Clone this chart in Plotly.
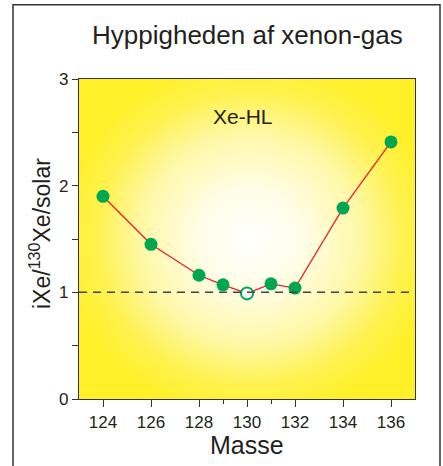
import base64
import plotly.graph_objects as go

# Data
masses = [124, 126, 128, 129, 130, 131, 132, 134, 136]
ratios = [1.90, 1.45, 1.16, 1.07, 0.99, 1.08, 1.04, 1.79, 2.41]
open_mass = [130]
open_ratio = [0.99]
x_ticks = [124, 126, 128, 130, 132, 134, 136]
x_minor = [129, 131]
y_ticks = [0, 1, 2, 3]
solar_level = 1

FONT = "Liberation Sans, Arial, sans-serif"
TXT = "#231f20"
GREEN = "#00a651"
RED = "#e8202a"
YELLOW = "#fff02a"

svg = (
    '<svg xmlns="http://www.w3.org/2000/svg" width="336" height="320" viewBox="0 0 336 320" preserveAspectRatio="none">'
    '<defs><radialGradient id="g" cx="0.51" cy="0.5" r="0.56">'
    '<stop offset="0" stop-color="#ffffff"/>'
    '<stop offset="0.28" stop-color="#fffde6"/>'
    '<stop offset="0.58" stop-color="#fff8a8"/>'
    '<stop offset="0.82" stop-color="#fff24e"/>'
    '<stop offset="1" stop-color="#fff02a"/>'
    '</radialGradient></defs>'
    '<rect width="336" height="320" fill="url(#g)"/></svg>'
)
svg_uri = "data:image/svg+xml;base64," + base64.b64encode(svg.encode()).decode()

fig = go.Figure()
fig.add_trace(go.Scatter(
    x=masses, y=ratios, mode="lines",
    line=dict(color=RED, width=1.3), hoverinfo="skip", showlegend=False))
fig.add_trace(go.Scatter(
    x=[m for m in masses if m not in open_mass],
    y=[r for m, r in zip(masses, ratios) if m not in open_mass],
    mode="markers", marker=dict(color=GREEN, size=13, line=dict(width=0)),
    showlegend=False))
fig.add_trace(go.Scatter(
    x=open_mass, y=open_ratio, mode="markers",
    marker=dict(color="white", size=12, line=dict(color=GREEN, width=2)),
    showlegend=False))

fig.update_layout(
    width=443, height=466,
    margin=dict(l=79, r=28, t=79, b=67),
    paper_bgcolor="white", plot_bgcolor=YELLOW,
    font=dict(family=FONT, color=TXT, size=17),
    images=[dict(source=svg_uri, xref="paper", yref="paper", x=0, y=1,
                 sizex=1, sizey=1, sizing="stretch", layer="below",
                 xanchor="left", yanchor="top")],
    xaxis=dict(range=[123, 137], tickvals=x_ticks, ticks="outside", ticklen=7,
               tickwidth=1.3, tickcolor="#333", showline=True, linecolor="#333",
               linewidth=1.3, mirror=True, showgrid=False, zeroline=False,
               tickfont=dict(size=17),
               minor=dict(tickvals=x_minor, ticks="outside", ticklen=4,
                          tickwidth=1.3, tickcolor="#333", showgrid=False)),
    yaxis=dict(range=[0, 3], tickvals=y_ticks, ticks="outside", ticklen=6,
               tickwidth=1.3, tickcolor="#333", showline=True, linecolor="#333",
               linewidth=1.3, mirror=True, showgrid=False, zeroline=False,
               tickfont=dict(size=17),
               minor=dict(dtick=0.5, ticks="outside", ticklen=6,
                          tickwidth=1.3, tickcolor="#333", showgrid=False)),
    shapes=[
        dict(type="line", xref="paper", yref="y", x0=0, x1=1,
             y0=solar_level, y1=solar_level, layer="above",
             line=dict(color="#444444", width=1.5, dash="8px,6px")),
        dict(type="rect", xref="paper", yref="paper",
             x0=-0.1964, x1=1.0744, y0=-0.25, y1=1.232,
             line=dict(color="#333333", width=1.5), layer="below"),
    ],
    annotations=[
        dict(text="Hyppigheden af xenon-gas", xref="paper", yref="paper",
             x=0.5, y=(399 - 35) / 320, xanchor="center", yanchor="middle",
             showarrow=False, font=dict(size=26)),
        dict(text="Xe-HL", x=129.85, y=2.65, xref="x", yref="y",
             showarrow=False, font=dict(size=21)),
        dict(text="Masse", xref="paper", yref="paper",
             x=0.5, y=(399 - 445) / 320, xanchor="center", yanchor="middle",
             showarrow=False, font=dict(size=25)),
        dict(text="iXe/<sup>130</sup>Xe/solar", xref="paper", yref="paper",
             x=(40 - 79) / 336, y=(399 - 234) / 320, xanchor="center",
             yanchor="middle", textangle=-90, showarrow=False,
             font=dict(size=23)),
    ],
)

fig.write_html(
    "out.html",
    config={"displayModeBar": False},
    post_script="document.body.style.margin='0';document.body.style.overflow='hidden';",
)
